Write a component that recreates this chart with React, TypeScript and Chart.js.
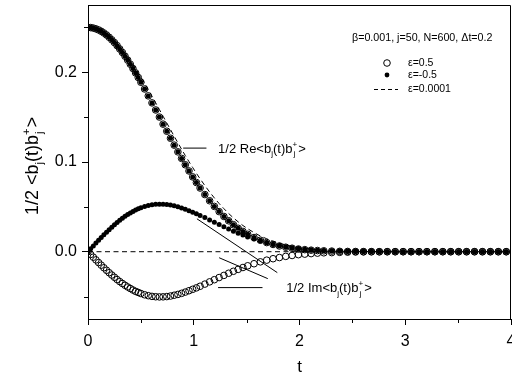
import React, { useEffect, useRef } from "react";
import { Chart, registerables } from "chart.js";
Chart.register(...registerables);

const FAM = "'Liberation Sans', Arial, Helvetica, sans-serif";

// time axis (sampling of the simulation output)
const T = [0, 0.025, 0.05, 0.075, 0.1, 0.125, 0.15, 0.175, 0.2, 0.225, 0.25, 0.275, 0.3, 0.325, 0.35, 0.375, 0.4, 0.425, 0.45, 0.475, 0.5,
  0.535, 0.57, 0.605, 0.64, 0.675, 0.71, 0.745, 0.78, 0.815, 0.85, 0.885, 0.92, 0.955, 0.99, 1.025, 1.06,
  1.105, 1.15, 1.195, 1.24, 1.285, 1.33, 1.375, 1.42, 1.465, 1.51,
  1.57, 1.63, 1.69, 1.75, 1.81, 1.87, 1.93, 1.99, 2.05, 2.11, 2.17, 2.23,
  2.305, 2.38, 2.455, 2.53, 2.605, 2.68, 2.755, 2.83, 2.905, 2.98, 3.055, 3.13, 3.205, 3.28, 3.355, 3.43, 3.505, 3.58, 3.655, 3.73, 3.805, 3.88, 3.955];

// ε = ±0.5 : real part (both coincide)
const RE_EPS_HALF = [0.25, 0.2498, 0.2493, 0.2484, 0.2472, 0.2457, 0.2438, 0.2416, 0.2390, 0.2362, 0.2331, 0.2297, 0.2260, 0.2221, 0.2179, 0.2136, 0.2090, 0.2042, 0.1993, 0.1942, 0.1889,
  0.1814, 0.1737, 0.1659, 0.1580, 0.1501, 0.1422, 0.1343, 0.1265, 0.1188, 0.1113, 0.1040, 0.0969, 0.0900, 0.0834, 0.0771, 0.0710,
  0.0637, 0.0568, 0.0505, 0.0447, 0.0393, 0.0345, 0.0301, 0.0261, 0.0226, 0.0194,
  0.0158, 0.0128, 0.0102, 0.0081, 0.0064, 0.0050, 0.0039, 0.0030, 0.0023, 0.0017, 0.0013, 0.0010,
  0.0007, 0.0004, 0.0003, 0.0002, 0.0001, 0.0001, 0, 0, 0, 0, 0, 0, 0, 0, 0, 0, 0, 0, 0, 0, 0, 0, 0];

// ε = -0.5 : imaginary part (positive)
const IM_EPS_NEG = [0, 0.0032, 0.0064, 0.0096, 0.0127, 0.0158, 0.0188, 0.0218, 0.0246, 0.0274, 0.0300, 0.0326, 0.0350, 0.0373, 0.0394, 0.0414, 0.0432, 0.0449, 0.0465, 0.0478, 0.0490,
  0.0505, 0.0516, 0.0524, 0.0528, 0.0530, 0.0529, 0.0526, 0.0520, 0.0511, 0.0501, 0.0488, 0.0474, 0.0458, 0.0441, 0.0424, 0.0405,
  0.0380, 0.0354, 0.0328, 0.0303, 0.0278, 0.0253, 0.0229, 0.0207, 0.0185, 0.0165,
  0.0141, 0.0119, 0.0099, 0.0082, 0.0068, 0.0055, 0.0044, 0.0035, 0.0028, 0.0022, 0.0017, 0.0013,
  0.0010, 0.0007, 0.0005, 0.0003, 0.0002, 0.0001, 0.0001, 0, 0, 0, 0, 0, 0, 0, 0, 0, 0, 0, 0, 0, 0, 0, 0];

// ε = 0.5 : imaginary part (negative)
const IM_EPS_POS = [0, -0.0030, -0.0061, -0.0091, -0.0121, -0.0150, -0.0179, -0.0207, -0.0234, -0.0260, -0.0285, -0.0310, -0.0333, -0.0354, -0.0374, -0.0393, -0.0410, -0.0427, -0.0442, -0.0454, -0.0466,
  -0.0480, -0.0490, -0.0498, -0.0502, -0.0504, -0.0503, -0.0500, -0.0494, -0.0485, -0.0476, -0.0464, -0.0450, -0.0435, -0.0419, -0.0403, -0.0385,
  -0.0361, -0.0336, -0.0312, -0.0288, -0.0264, -0.0240, -0.0218, -0.0197, -0.0176, -0.0157,
  -0.0134, -0.0113, -0.0094, -0.0078, -0.0065, -0.0052, -0.0042, -0.0033, -0.0027, -0.0021, -0.0016, -0.0012,
  -0.0010, -0.0007, -0.0005, -0.0003, -0.0002, -0.0001, -0.0001, 0, 0, 0, 0, 0, 0, 0, 0, 0, 0, 0, 0, 0, 0, 0, 0];

// ε = 0.0001 : real part (dashed)
const RE_EPS_SMALL = [0.25, 0.2498, 0.2494, 0.2486, 0.2475, 0.2461, 0.2444, 0.2425, 0.2402, 0.2377, 0.2349, 0.2318, 0.2285, 0.2249, 0.2212, 0.2172, 0.2130, 0.2087, 0.2042, 0.1995, 0.1947,
  0.1878, 0.1806, 0.1734, 0.1660, 0.1585, 0.1510, 0.1435, 0.1361, 0.1287, 0.1214, 0.1142, 0.1072, 0.1004, 0.0938, 0.0874, 0.0813,
  0.0737, 0.0666, 0.0599, 0.0537, 0.0480, 0.0426, 0.0377, 0.0333, 0.0292, 0.0256,
  0.0213, 0.0175, 0.0144, 0.0117, 0.0094, 0.0076, 0.0060, 0.0048, 0.0037, 0.0029, 0.0023, 0.0017,
  0.0012, 0.0009, 0.0006, 0.0004, 0.0003, 0.0002, 0.0001, 0.0001, 0.0001, 0, 0, 0, 0, 0, 0, 0, 0, 0, 0, 0, 0, 0, 0];

// ε = 0.0001 : imaginary part (dashed, zero)
const IM_SMALL_T = [0, 4];
const IM_EPS_SMALL = [0, 0];

// axes
const X_MIN = 0, X_MAX = 4, X_STEP = 1, X_MINOR = [0.5, 1.5, 2.5, 3.5];
const Y_MIN = -0.075, Y_MAX = 0.275, Y_STEP = 0.1, Y_MINOR = [-0.05, 0.05, 0.15, 0.25];

// texts
const HEADER = "β=0.001, j=50, N=600, Δt=0.2";
const LEGEND = ["ε=0.5", "ε=-0.5", "ε=0.0001"];
const X_TITLE = "t";

// annotations (data coordinates)
const RE_LINE = [[0.90, 0.1155], [1.12, 0.1155]];
const RE_TEXT_AT = [1.23, 0.1155];
const IM_LINE = [[1.23, -0.040], [1.65, -0.040]];
const IM_TEXT_AT = [1.875, -0.040];
const POINTER_1 = [[1.03, 0.0367], [1.79, -0.0233]];
const POINTER_2 = [[1.24, -0.0067], [1.70, -0.0300]];

type Part = [string, "n" | "sub" | "sup" | "ss"];
const RE_LABEL: Part[] = [["1/2 Re<b", "n"], ["j", "sub"], ["(t)b", "n"], ["+|j", "ss"], [">", "n"]];
const IM_LABEL: Part[] = [["1/2 Im<b", "n"], ["j", "sub"], ["(t)b", "n"], ["+|j", "ss"], [">", "n"]];
const Y_LABEL: Part[] = [["1/2 <b", "n"], ["j", "sub"], ["(t)b", "n"], ["+|j", "ss"], [">", "n"]];

function pts(xs: number[], ys: number[]) {
  return xs.map((x, i) => ({ x, y: ys[i] }));
}

function drawRich(ctx: CanvasRenderingContext2D, x: number, y: number, parts: Part[], size: number) {
  let cx = x;
  const small = size * 0.62;
  ctx.textAlign = "left";
  ctx.textBaseline = "alphabetic";
  for (const [txt, kind] of parts) {
    if (kind === "n") {
      ctx.font = `${size}px ${FAM}`;
      ctx.fillText(txt, cx, y);
      cx += ctx.measureText(txt).width;
    } else if (kind === "sub") {
      ctx.font = `${small}px ${FAM}`;
      ctx.fillText(txt, cx, y + size * 0.3);
      cx += ctx.measureText(txt).width;
    } else if (kind === "sup") {
      ctx.font = `${small}px ${FAM}`;
      ctx.fillText(txt, cx, y - size * 0.45);
      cx += ctx.measureText(txt).width;
    } else {
      const [sp, sb] = txt.split("|");
      ctx.font = `${small}px ${FAM}`;
      ctx.fillText(sp, cx, y - size * 0.45);
      ctx.fillText(sb, cx + 1, y + size * 0.3);
      cx += Math.max(ctx.measureText(sp).width, ctx.measureText(sb).width + 1) + 1;
    }
  }
}

const decor = {
  id: "decor",
  afterDraw(chart: any) {
    const ctx: CanvasRenderingContext2D = chart.ctx;
    const { left, right, top, bottom } = chart.chartArea;
    const xs = chart.scales.x, ys = chart.scales.y;
    const px = (v: number) => xs.getPixelForValue(v);
    const py = (v: number) => ys.getPixelForValue(v);
    ctx.save();
    ctx.strokeStyle = "#000";
    ctx.fillStyle = "#000";
    ctx.lineWidth = 1;
    // box top and right
    ctx.beginPath();
    ctx.moveTo(left, top + 0.5);
    ctx.lineTo(right - 0.5, top + 0.5);
    ctx.lineTo(right - 0.5, bottom);
    ctx.stroke();
    // minor ticks
    ctx.beginPath();
    for (const v of X_MINOR) {
      const x = Math.round(px(v)) + 0.5;
      ctx.moveTo(x, bottom);
      ctx.lineTo(x, bottom + 4);
    }
    for (const v of Y_MINOR) {
      const y = Math.round(py(v)) + 0.5;
      ctx.moveTo(left, y);
      ctx.lineTo(left - 4, y);
    }
    ctx.stroke();

    // header + legend
    ctx.font = `10.7px ${FAM}`;
    ctx.textBaseline = "middle";
    ctx.textAlign = "left";
    ctx.fillText(HEADER, right - 159, top + 33);
    ctx.font = `10.5px ${FAM}`;
    const sx = right - 124, tx = right - 103;
    const rows = [top + 58, top + 70, top + 84];
    ctx.beginPath();
    ctx.arc(sx, rows[0], 3.3, 0, Math.PI * 2);
    ctx.stroke();
    ctx.beginPath();
    ctx.arc(sx, rows[1], 2.4, 0, Math.PI * 2);
    ctx.fill();
    ctx.save();
    ctx.setLineDash([4, 3]);
    ctx.beginPath();
    ctx.moveTo(sx - 13, rows[2] + 0.5);
    ctx.lineTo(sx + 11, rows[2] + 0.5);
    ctx.stroke();
    ctx.restore();
    LEGEND.forEach((s, i) => ctx.fillText(s, tx, rows[i]));

    // annotation lines
    ctx.beginPath();
    for (const seg of [RE_LINE, IM_LINE, POINTER_1, POINTER_2]) {
      ctx.moveTo(px(seg[0][0]), py(seg[0][1]));
      ctx.lineTo(px(seg[1][0]), py(seg[1][1]));
    }
    ctx.stroke();
    drawRich(ctx, px(RE_TEXT_AT[0]), py(RE_TEXT_AT[1]) + 4.5, RE_LABEL, 13);
    drawRich(ctx, px(IM_TEXT_AT[0]), py(IM_TEXT_AT[1]) + 4.5, IM_LABEL, 13);

    // y title (rotated)
    ctx.save();
    ctx.translate(38, 215);
    ctx.rotate(-Math.PI / 2);
    drawRich(ctx, 0, 0, Y_LABEL, 18);
    ctx.restore();
    ctx.restore();
  },
};

export default function App() {
  const ref = useRef<HTMLCanvasElement | null>(null);
  useEffect(() => {
    if (!ref.current) return;
    Chart.defaults.font.family = FAM;
    const openStyle = {
      showLine: false,
      pointRadius: 3.3,
      pointBorderWidth: 1,
      pointBorderColor: "#000",
      pointBackgroundColor: "rgba(0,0,0,0)",
    };
    const filledStyle = {
      showLine: false,
      pointRadius: 2.5,
      pointBorderWidth: 0,
      pointBorderColor: "#000",
      pointBackgroundColor: "#000",
    };
    const dashStyle = {
      showLine: true,
      pointRadius: 0,
      borderColor: "#000",
      borderWidth: 1,
      borderDash: [5, 3.5],
      fill: false,
    };
    const chart = new Chart(ref.current, {
      type: "scatter",
      data: {
        datasets: [
          { label: "ε=-0.5 Re", data: pts(T, RE_EPS_HALF), ...filledStyle },
          { label: "ε=-0.5 Im", data: pts(T, IM_EPS_NEG), ...filledStyle },
          { label: "ε=0.5 Re", data: pts(T, RE_EPS_HALF), ...openStyle },
          { label: "ε=0.5 Im", data: pts(T, IM_EPS_POS), ...openStyle },
          { label: "ε=0.0001 Re", data: pts(T, RE_EPS_SMALL), ...dashStyle },
          { label: "ε=0.0001 Im", data: pts(IM_SMALL_T, IM_EPS_SMALL), ...dashStyle },
        ] as any,
      },
      options: {
        responsive: false,
        animation: false,
        events: [],
        layout: { autoPadding: false, padding: { top: 5, right: 1, left: 0, bottom: 0 } },
        plugins: { legend: { display: false }, tooltip: { enabled: false } },
        scales: {
          x: {
            type: "linear",
            min: X_MIN,
            max: X_MAX,
            afterFit: (s: any) => { s.height = 59; s.paddingLeft = 0; s.paddingRight = 0; },
            ticks: { stepSize: X_STEP, includeBounds: false, color: "#000", font: { size: 16 }, padding: 7, maxRotation: 0, autoSkip: false },
            grid: { drawOnChartArea: false, drawTicks: true, tickLength: 6, color: "#000" },
            border: { color: "#000", width: 1 },
            title: { display: true, text: X_TITLE, color: "#000", font: { size: 17 }, padding: { top: 0, bottom: 0 } },
          },
          y: {
            type: "linear",
            min: Y_MIN,
            max: Y_MAX,
            afterFit: (s: any) => { s.width = 88; s.paddingTop = 0; s.paddingBottom = 0; },
            ticks: {
              stepSize: Y_STEP,
              includeBounds: false,
              color: "#000",
              font: { size: 16 },
              padding: 5,
              callback: (v: any) => Number(v).toFixed(1),
            },
            grid: { drawOnChartArea: false, drawTicks: true, tickLength: 6, color: "#000" },
            border: { color: "#000", width: 1 },
          },
        },
      } as any,
      plugins: [decor],
    });
    return () => chart.destroy();
  }, []);
  return (
    <div style={{ position: "absolute", left: 0, top: 0, width: 512, height: 378, background: "#fff" }}>
      <canvas ref={ref} width={512} height={378} style={{ display: "block" }} />
    </div>
  );
}
